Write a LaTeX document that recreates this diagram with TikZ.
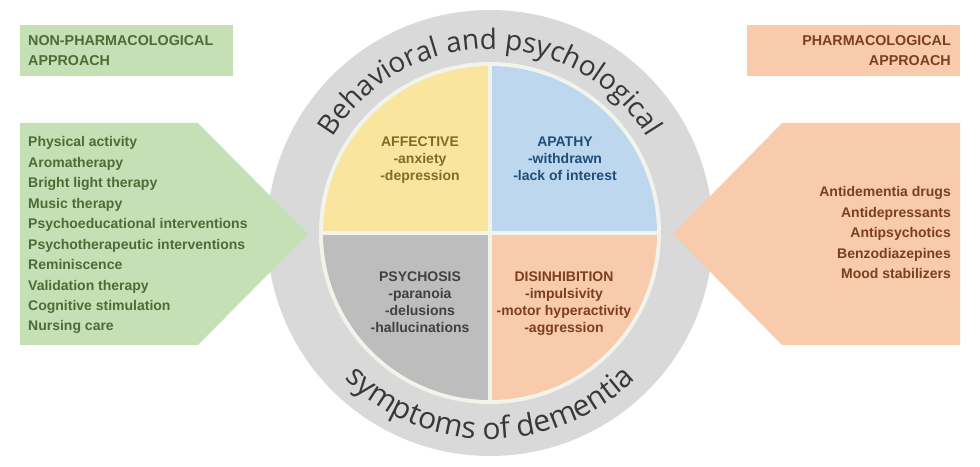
\documentclass[tikz,border=0pt]{standalone}
\usepackage{fontspec}
\setmainfont{Liberation Sans}
\newfontfamily\arcfont{Open Sans}
\usetikzlibrary{decorations.text}
\definecolor{ring}{HTML}{D9D9D9}
\definecolor{cream}{HTML}{F2F3EB}
\definecolor{affbg}{HTML}{F9E59E}
\definecolor{affink}{HTML}{85692A}
\definecolor{apabg}{HTML}{BDD7EE}
\definecolor{apaink}{HTML}{1F4E79}
\definecolor{psybg}{HTML}{BDBDBD}
\definecolor{psyink}{HTML}{404040}
\definecolor{disbg}{HTML}{F8CBAD}
\definecolor{disink}{HTML}{7B3F1F}
\definecolor{nonbg}{HTML}{C5E0B4}
\definecolor{nonink}{HTML}{4F6B35}
\definecolor{arcink}{HTML}{383838}
\newcommand\toparcfont{\arcfont\fontsize{28}{32}\selectfont}
\newcommand\botarcfont{\arcfont\fontsize{30}{34}\selectfont}
\tikzset{
	lbl/.style={inner sep=0, font=\bfseries\fontsize{14}{17}\selectfont},
	headL/.style={lbl, anchor=base west, text=nonink, font=\bfseries\fontsize{14.3}{17}\selectfont},
	headR/.style={lbl, anchor=base east, text=disink, font=\bfseries\fontsize{14.3}{17}\selectfont},
	itemL/.style={lbl, anchor=base west, text=nonink},
	itemR/.style={lbl, anchor=base east, text=disink},
	quad/.style={lbl, anchor=base}
}

\begin{document}
\begin{tikzpicture}[x=1pt,y=1pt]
	\useasboundingbox (0,0) rectangle (980,466);
	
	\def\Ro{223pt}   % outer ring
	\def\Ri{171pt}   % cream disc
	\def\Rq{167pt}   % quadrants
	\def\dl{20.44}   % list line step
	\def\dr{20.5}    % drug line step
	\def\dq{17}      % quadrant line step
	\coordinate (C) at (490,233);
	
	% RING
	\fill[ring] (C) circle[radius=\Ro];
	
	% SIDES
	\fill[nonbg] (20,390) rectangle (233,441);
	\fill[disbg] (747,390) rectangle (960,441);
	\fill[nonbg] (20,343) -- (198,343) -- (308,232) -- (198,121) -- (20,121) -- cycle;
	\fill[disbg] (960,343) -- (782,343) -- (673,232) -- (782,121) -- (960,121) -- cycle;
	
	% QUADRANTS
	\fill[cream] (C) circle[radius=\Ri];
	\fill[affbg] (C) -- ++(180:\Rq) arc[start angle=180, end angle=90, radius=\Rq] -- cycle;
	\fill[apabg] (C) -- ++(90:\Rq) arc[start angle=90, end angle=0, radius=\Rq] -- cycle;
	\fill[psybg] (C) -- ++(270:\Rq) arc[start angle=270, end angle=180, radius=\Rq] -- cycle;
	\fill[disbg] (C) -- ++(0:\Rq) arc[start angle=0, end angle=-90, radius=\Rq] -- cycle;
	\draw[cream,line width=4.5pt] ([xshift=-\Ri]C) -- ([xshift=\Ri]C);
	\draw[cream,line width=4.5pt] ([yshift=-\Ri]C) -- ([yshift=\Ri]C);
	
	% ARC TEXT
	\path[decorate,decoration={text along path,text align=center,text color=arcink,
		text={|\toparcfont|Behavioral and psychological}}]
	([shift={(154:184pt)}]C) arc[start angle=154, end angle=26, radius=184pt];
	\path[decorate,decoration={text along path,text align=center,text color=arcink,
		text={|\botarcfont|symptoms of dementia}}]
	([shift={(206:206pt)}]C) arc[start angle=206, end angle=334, radius=206pt];
	
	% HEADERS
	\node[headL] (nph1) at (28,420) {NON-PHARMACOLOGICAL};
	\node[headL] (nph2) at (28,400) {APPROACH};
	\node[headR] (ph1) at (951,420) {PHARMACOLOGICAL};
	\node[headR] (ph2) at (951,400) {APPROACH};
	
	% NON-PHARMACOLOGICAL LIST
	\node[itemL] (act) at (28,319) {Physical activity};
	\node[itemL] (aroma) at (28,319-1*\dl) {Aromatherapy};
	\node[itemL] (light) at (28,319-2*\dl) {Bright light therapy};
	\node[itemL] (music) at (28,319-3*\dl) {Music therapy};
	\node[itemL] (edu) at (28,319-4*\dl) {Psychoeducational interventions};
	\node[itemL] (ther) at (28,319-5*\dl) {Psychotherapeutic interventions};
	\node[itemL] (remi) at (28,319-6*\dl) {Reminiscence};
	\node[itemL] (valid) at (28,319-7*\dl) {Validation therapy};
	\node[itemL] (cogn) at (28,319-8*\dl) {Cognitive stimulation};
	\node[itemL] (nurse) at (28,319-9*\dl) {Nursing care};
	
	% PHARMACOLOGICAL LIST
	\node[itemR] (antidem) at (951,269) {Antidementia drugs};
	\node[itemR] (antidep) at (951,269-1*\dr) {Antidepressants};
	\node[itemR] (antipsy) at (951,269-2*\dr) {Antipsychotics};
	\node[itemR] (benzo) at (951,269-3*\dr) {Benzodiazepines};
	\node[itemR] (mood) at (951,269-4*\dr) {Mood stabilizers};
	
	% QUADRANT LABELS
	\node[quad,text=affink] (aff0) at (420,319) {AFFECTIVE};
	\node[quad,text=affink] (aff1) at (420,319-\dq) {-anxiety};
	\node[quad,text=affink] (aff2) at (420,319-2*\dq) {-depression};
	\node[quad,text=apaink] (apa0) at (565,319) {APATHY};
	\node[quad,text=apaink] (apa1) at (565,319-\dq) {-withdrawn};
	\node[quad,text=apaink] (apa2) at (565,319-2*\dq) {-lack of interest};
	\node[quad,text=psyink] (psy0) at (420,184) {PSYCHOSIS};
	\node[quad,text=psyink] (psy1) at (420,184-\dq) {-paranoia};
	\node[quad,text=psyink] (psy2) at (420,184-2*\dq) {-delusions};
	\node[quad,text=psyink] (psy3) at (420,184-3*\dq) {-hallucinations};
	\node[quad,text=disink] (dis0) at (564,184) {DISINHIBITION};
	\node[quad,text=disink] (dis1) at (564,184-\dq) {-impulsivity};
	\node[quad,text=disink] (dis2) at (564,184-2*\dq) {-motor hyperactivity};
	\node[quad,text=disink] (dis3) at (564,184-3*\dq) {-aggression};
	
\end{tikzpicture}
\end{document}
